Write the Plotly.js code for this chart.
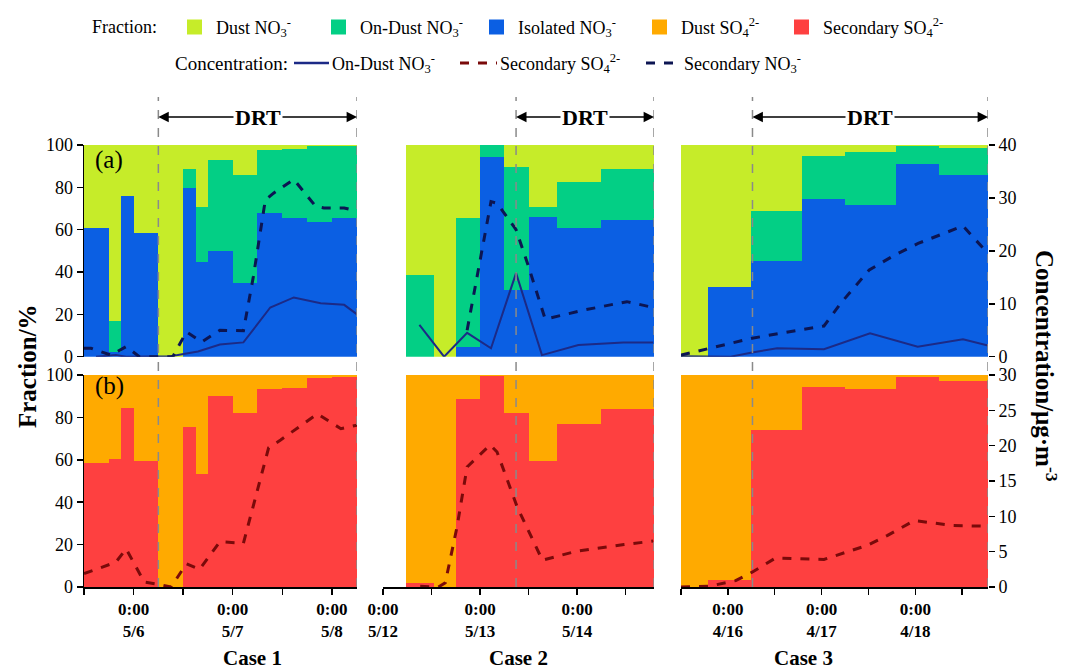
<!DOCTYPE html>
<html>
<head>
<meta charset="utf-8">
<script src="https://cdn.plot.ly/plotly-3.0.1.min.js"></script>
<style>html,body{margin:0;padding:0;background:#fff;}#chart{width:1070px;height:670px;}</style>
</head>
<body>
<div id="chart"></div>
<script>
// ---------------- DATA (hours from the start of each case's axis) ----------------
// Case 1: axis starts 5/5 12:00
const c1Edges      = [0, 6, 9, 12, 18, 24, 27, 30, 36, 42, 48, 54, 60, 66.1];
const c1IsoNO3     = [60.7, 2, 76, 58.3, 0, 79.9, 44.9, 50, 34.7, 67.8, 65.4, 63.4, 65.4];
const c1OnDustNO3  = [0, 15, 0, 0, 0, 8.7, 26, 42.7, 51.2, 29.9, 32.6, 35.9, 33.9];
const c1DustNO3    = [39.3, 83, 24, 41.7, 100, 11.4, 29.1, 7.3, 14.1, 2.3, 2, 0.7, 0.7];
const c1SecSO4     = [58.3, 60.6, 84.6, 59.4, 0, 75.3, 53.5, 90.1, 81.9, 93.4, 94, 98.4, 98.9];
const c1DustSO4    = [41.7, 39.4, 15.4, 40.6, 100, 24.7, 46.5, 9.9, 18.1, 6.6, 6, 1.6, 1.1];
const c1OdT  = [2.9, 7.7, 10.2, 17.9, 21.1, 24.1, 27.6, 32.9, 38.6, 45.1, 50.8, 57.3, 63, 66.1];
const c1OdC  = [0, 0.3, 0, 0, 0.1, 0.5, 1.0, 2.3, 2.7, 9.3, 11.2, 10.1, 9.8, 8.0];
const c1SnT  = [0, 1.7, 6.5, 10.2, 13.4, 21.5, 24.8, 28.5, 32.9, 38.6, 41, 43.9, 45.9, 50.8, 56.1, 58.1, 63, 66.1];
const c1SnC  = [1.6, 1.6, 0.3, 1.9, 0, 0, 4.7, 2.8, 5.0, 4.9, 15.1, 29.6, 30.9, 33.5, 28.4, 28.1, 28.1, 27.5];
const c1SsT  = [0, 7.7, 10.2, 14.6, 17.9, 21.1, 24.8, 28, 32.9, 38.6, 44.7, 47.6, 56.5, 62.2, 66.1];
const c1SsC  = [1.9, 3.5, 5.4, 0.7, 0.4, 0, 3.3, 2.5, 6.4, 6.2, 19.7, 20.8, 24.5, 22.4, 22.9];
const c1Range = [0, 66.1];
const c1Ticks = [0, 12, 24, 36, 48, 60];
const c1TickText = ['', '0:00<br>5/6', '', '0:00<br>5/7', '', '0:00<br>5/8'];
const c1DRT = [18, 66.1];

// Case 2: axis starts 5/12 0:00
const c2Edges      = [5.6, 12.7, 18, 24, 30, 36, 43, 54, 67];
const c2IsoNO3     = [0, 0, 4.7, 94.3, 31.5, 66.2, 61, 64.6];
const c2OnDustNO3  = [38.6, 0, 60.7, 5.7, 57.9, 4.7, 21.5, 24];
const c2DustNO3    = [61.4, 100, 34.6, 0, 10.6, 29.1, 17.5, 11.4];
const c2SecSO4     = [1.9, 0, 88.5, 99.7, 81.9, 59.4, 76.7, 83.8];
const c2DustSO4    = [98.1, 100, 11.5, 0.3, 18.1, 40.6, 23.3, 16.2];
const c2OdT  = [9, 15.1, 20.8, 26.7, 32.9, 39.3, 48.3, 59.4, 66.8];
const c2OdC  = [6.0, 0, 4.5, 1.6, 15.8, 0.3, 2.2, 2.7, 2.7];
const c2SnT  = [20.8, 26.7, 28.2, 32.9, 36, 40.1, 49.6, 60.3, 66.8];
const c2SnC  = [5.0, 29.3, 29.0, 24.0, 17.0, 7.1, 8.8, 10.4, 9.3];
const c2SsT  = [9.2, 13.7, 15.4, 18.3, 20.8, 26.5, 28.2, 33.2, 39.4, 48.1, 59.6, 66.8];
const c2SsC  = [0.1, 0, 0.6, 8.5, 17.0, 20.1, 19.1, 11.3, 3.8, 5.1, 6.0, 6.5];
const c2Range = [0, 67];
const c2Ticks = [0, 12, 24, 36, 48, 60];
const c2TickText = ['0:00<br>5/12', '', '0:00<br>5/13', '', '0:00<br>5/14', ''];
const c2DRT = [32.9, 67];

// Case 3: axis starts 4/15 12:00
const c3Edges      = [0, 7, 18, 31, 42, 55, 66, 78.6];
const c3IsoNO3     = [0, 33.1, 45.2, 74.6, 71.7, 91, 85.9];
const c3OnDustNO3  = [0, 0, 23.4, 20, 24.9, 8.3, 12.9];
const c3DustNO3    = [100, 66.9, 31.4, 5.4, 3.4, 0.7, 1.2];
const c3SecSO4     = [0, 3.2, 74, 94.2, 93.2, 98.9, 97.2];
const c3DustSO4    = [100, 96.8, 26, 5.8, 6.8, 1.1, 2.8];
const c3OdT  = [0, 12.7, 18.2, 24.6, 36.6, 48.4, 60.6, 72.2, 78.6];
const c3OdC  = [0.1, 0, 0.8, 1.6, 1.4, 4.4, 1.9, 3.3, 2.1];
const c3SnT  = [0, 7.1, 18.2, 36.6, 40.9, 48.2, 54.7, 60.7, 72.2, 78.6];
const c3SnC  = [0.3, 1.6, 3.5, 5.8, 10.1, 16.4, 19.2, 21.4, 24.7, 19.5];
const c3SsT  = [0, 7.1, 14, 18.2, 24.2, 36.6, 47.7, 52.9, 59.7, 69.6, 78.6];
const c3SsC  = [0, 0.1, 0.9, 2.1, 4.1, 3.9, 5.9, 7.3, 9.4, 8.7, 8.6];
const c3Range = [0, 78.6];
const c3Ticks = [0, 12, 24, 36, 48, 60, 72];
const c3TickText = ['', '0:00<br>4/16', '', '0:00<br>4/17', '', '0:00<br>4/18', ''];
const c3DRT = [18.3, 78.6];

const caseNames = ['Case 1', 'Case 2', 'Case 3'];
const fractionLegend = ['dustNO3', 'onDustNO3', 'isoNO3', 'dustSO4', 'secSO4'];
const concLegend = ['lineOd', 'lineSs', 'lineSn'];

// ---------------- STYLE ----------------
const FONT = 'Liberation Serif, Times New Roman, serif';
const COL = {
  dustNO3: '#c6ec29', onDustNO3: '#03cf85', isoNO3: '#0b5fe3',
  dustSO4: '#ffaa00', secSO4: '#fe4040',
  lineOd: '#1c2a86', lineSn: '#0c1552', lineSs: '#7a0a0a'
};
const NAMES = {
  dustNO3: 'Dust NO<sub>3</sub><sup>-</sup>',
  onDustNO3: 'On-Dust NO<sub>3</sub><sup>-</sup>',
  isoNO3: 'Isolated NO<sub>3</sub><sup>-</sup>',
  dustSO4: 'Dust SO<sub>4</sub><sup>2-</sup>',
  secSO4: 'Secondary SO<sub>4</sub><sup>2-</sup>',
  lineOd: 'On-Dust NO<sub>3</sub><sup>-</sup>',
  lineSs: 'Secondary SO<sub>4</sub><sup>2-</sup>',
  lineSn: 'Secondary NO<sub>3</sub><sup>-</sup>'
};
const DASH = {lineOd: 'solid', lineSs: 'dash', lineSn: 'dash'};

function centers(e) { return e.slice(0, -1).map((v, i) => (v + e[i + 1]) / 2); }
function widths(e) { return e.slice(0, -1).map((v, i) => e[i + 1] - v); }

const cases = [
  {xa: 'x',  e: c1Edges, iso: c1IsoNO3, od: c1OnDustNO3, du: c1DustNO3, ss: c1SecSO4, ds: c1DustSO4,
   odT: c1OdT, odC: c1OdC, snT: c1SnT, snC: c1SnC, ssT: c1SsT, ssC: c1SsC, drt: c1DRT},
  {xa: 'x2', e: c2Edges, iso: c2IsoNO3, od: c2OnDustNO3, du: c2DustNO3, ss: c2SecSO4, ds: c2DustSO4,
   odT: c2OdT, odC: c2OdC, snT: c2SnT, snC: c2SnC, ssT: c2SsT, ssC: c2SsC, drt: c2DRT},
  {xa: 'x3', e: c3Edges, iso: c3IsoNO3, od: c3OnDustNO3, du: c3DustNO3, ss: c3SecSO4, ds: c3DustSO4,
   odT: c3OdT, odC: c3OdC, snT: c3SnT, snC: c3SnC, ssT: c3SsT, ssC: c3SsC, drt: c3DRT}
];

const traces = [];
cases.forEach((c) => {
  const xc = centers(c.e), w = widths(c.e);
  const bar = (y, yaxis, key) => ({
    type: 'bar', x: xc, y: y, width: w, xaxis: c.xa, yaxis: yaxis,
    marker: {color: COL[key], line: {width: 0}}, name: NAMES[key], showlegend: false, hoverinfo: 'skip'
  });
  traces.push(bar(c.iso, 'y', 'isoNO3'));
  traces.push(bar(c.od, 'y', 'onDustNO3'));
  traces.push(bar(c.du, 'y', 'dustNO3'));
  traces.push(bar(c.ss, 'y2', 'secSO4'));
  traces.push(bar(c.ds, 'y2', 'dustSO4'));
});
cases.forEach((c) => {
  traces.push({type: 'scatter', mode: 'lines', x: c.odT, y: c.odC, xaxis: c.xa, yaxis: 'y3',
    line: {color: COL.lineOd, width: 2}, name: NAMES.lineOd, showlegend: false, hoverinfo: 'skip'});
  traces.push({type: 'scatter', mode: 'lines', x: c.ssT, y: c.ssC, xaxis: c.xa, yaxis: 'y4',
    line: {color: COL.lineSs, width: 3, dash: 'dash'}, name: NAMES.lineSs, showlegend: false, hoverinfo: 'skip'});
  traces.push({type: 'scatter', mode: 'lines', x: c.snT, y: c.snC, xaxis: c.xa, yaxis: 'y3',
    line: {color: COL.lineSn, width: 3, dash: 'dash'}, name: NAMES.lineSn, showlegend: false, hoverinfo: 'skip'});
});

// ---------------- LAYOUT ----------------
const W = 1070, H = 670, L = 84, R = 82, T = 145, B = 83;
const pw = W - L - R, ph = H - T - B;
const px2x = p => (p - L) / pw;          // pixel -> paper x
const px2y = p => (H - B - p) / ph;      // pixel -> paper y

const xBase = (dom, range, tv, tt) => ({
  domain: dom, range: range, anchor: 'y2', tickvals: tv, ticktext: tt,
  showline: true, linecolor: '#000', linewidth: 1.5, ticks: 'outside', ticklen: 6, tickwidth: 1.5,
  tickcolor: '#000', showgrid: false, zeroline: false, fixedrange: true,
  tickfont: {family: FONT, size: 17, color: '#000', weight: 'bold'}
});
const yLeft = (dom) => ({
  domain: dom, range: [0, 100], anchor: 'x', tickvals: [0, 20, 40, 60, 80, 100],
  showline: true, linecolor: '#000', linewidth: 1.5, ticks: 'outside', ticklen: 6, tickwidth: 1.5,
  tickcolor: '#000', showgrid: false, zeroline: false, fixedrange: true,
  tickfont: {family: FONT, size: 18, color: '#000'}
});

const shapes = [];
const annotations = [];
cases.forEach((c) => {
  c.drt.forEach(v => shapes.push({type: 'line', xref: c.xa, yref: 'paper', x0: v, x1: v,
    y0: 0, y1: px2y(97), line: {color: '#8a8a8a', width: 1.5, dash: 'dash'}, layer: 'above'}));
  const mid = (c.drt[0] + c.drt[1]) / 2;
  [c.drt[0], c.drt[1]].forEach(v => annotations.push({xref: c.xa, yref: 'paper', x: v, y: px2y(117),
    axref: c.xa, ax: mid, ayref: 'pixel', ay: 0, text: '', showarrow: true,
    arrowhead: 2, arrowsize: 1.3, arrowwidth: 1.6, arrowcolor: '#000', standoff: 0}));
  annotations.push({xref: c.xa, yref: 'paper', x: mid, y: px2y(117), text: '<b>DRT</b>', showarrow: false,
    bgcolor: '#fff', borderpad: 1, font: {family: FONT, size: 22, color: '#000'}, yanchor: 'middle'});
});
const caseCenters = [(84 + 357) / 2, (383 + 654) / 2, (681 + 988) / 2];
caseNames.forEach((n, i) => annotations.push({xref: 'paper', yref: 'paper', x: px2x(caseCenters[i]), y: px2y(658),
  text: '<b>' + n + '</b>', showarrow: false, font: {family: FONT, size: 21, color: '#000'}, yanchor: 'middle'}));
annotations.push({xref: 'paper', yref: 'paper', x: px2x(93), y: px2y(160), text: '(a)', showarrow: false,
  xanchor: 'left', yanchor: 'middle', font: {family: FONT, size: 25, color: '#000'}});
annotations.push({xref: 'paper', yref: 'paper', x: px2x(93), y: px2y(386), text: '(b)', showarrow: false,
  xanchor: 'left', yanchor: 'middle', font: {family: FONT, size: 25, color: '#000'}});
annotations.push({xref: 'paper', yref: 'paper', x: px2x(27), y: px2y(366), text: '<b>Fraction/%</b>', showarrow: false,
  textangle: -90, xanchor: 'center', yanchor: 'middle', font: {family: FONT, size: 25, color: '#000'}});
annotations.push({xref: 'paper', yref: 'paper', x: px2x(1046), y: px2y(366), text: '<b>Concentration/μg·m<sup>-3</sup></b>',
  showarrow: false, textangle: 90, xanchor: 'center', yanchor: 'middle', font: {family: FONT, size: 25, color: '#000'}});

// ---- legend (drawn by hand so spacing follows the original) ----
const LF = {family: FONT, size: 18, color: '#000'};
const row1Y = 27, row2Y = 63;
annotations.push({xref: 'paper', yref: 'paper', x: px2x(159), y: px2y(row1Y), text: 'Fraction:', showarrow: false,
  xanchor: 'right', yanchor: 'middle', font: LF});
const sqX = [187, 331, 489, 652, 794];
fractionLegend.forEach((k, i) => {
  shapes.push({type: 'rect', xref: 'paper', yref: 'paper', x0: px2x(sqX[i]), x1: px2x(sqX[i] + 15),
    y0: px2y(row1Y + 7.5), y1: px2y(row1Y - 7.5), fillcolor: COL[k], line: {width: 0}});
  annotations.push({xref: 'paper', yref: 'paper', x: px2x(sqX[i] + 27), y: px2y(row1Y), text: NAMES[k],
    showarrow: false, xanchor: 'left', yanchor: 'middle', font: LF});
});
annotations.push({xref: 'paper', yref: 'paper', x: px2x(290), y: px2y(row2Y), text: 'Concentration:', showarrow: false,
  xanchor: 'right', yanchor: 'middle', font: {family: FONT, size: 19, color: '#000'}});
const lnX = [[294, 329], [460, 497], [646, 681]];
concLegend.forEach((k, i) => {
  shapes.push({type: 'line', xref: 'paper', yref: 'paper', x0: px2x(lnX[i][0]), x1: px2x(lnX[i][1]),
    y0: px2y(row2Y), y1: px2y(row2Y), line: {color: COL[k], width: k === 'lineOd' ? 2.5 : 3, dash: DASH[k]}});
  annotations.push({xref: 'paper', yref: 'paper', x: px2x(lnX[i][1] + 1), y: px2y(row2Y), text: NAMES[k],
    showarrow: false, xanchor: 'left', yanchor: 'middle', font: LF});
});

const layout = {
  width: W, height: H, margin: {l: L, r: R, t: T, b: B, pad: 0},
  paper_bgcolor: '#fff', plot_bgcolor: 'rgba(0,0,0,0)',
  barmode: 'stack', bargap: 0, showlegend: false,
  font: {family: FONT, color: '#000'},
  xaxis:  xBase([0, px2x(357)], c1Range, c1Ticks, c1TickText),
  xaxis2: xBase([px2x(383), px2x(654)], c2Range, c2Ticks, c2TickText),
  xaxis3: xBase([px2x(681), 1], c3Range, c3Ticks, c3TickText),
  yaxis:  yLeft([px2y(356.7), 1]),
  yaxis2: yLeft([0, px2y(375)]),
  yaxis3: {overlaying: 'y', side: 'right', anchor: 'x3', range: [0, 40], tickvals: [0, 10, 20, 30, 40],
    showline: false, ticks: 'outside', ticklen: 6, tickwidth: 1.5, tickcolor: '#000', showgrid: false,
    zeroline: false, fixedrange: true, tickfont: {family: FONT, size: 18, color: '#000'}},
  yaxis4: {overlaying: 'y2', side: 'right', anchor: 'x3', range: [0, 30], tickvals: [0, 5, 10, 15, 20, 25, 30],
    showline: false, ticks: 'outside', ticklen: 6, tickwidth: 1.5, tickcolor: '#000', showgrid: false,
    zeroline: false, fixedrange: true, tickfont: {family: FONT, size: 18, color: '#000'}},
  shapes: shapes,
  annotations: annotations
};

Plotly.newPlot('chart', traces, layout, {staticPlot: true});
</script>
</body>
</html>
